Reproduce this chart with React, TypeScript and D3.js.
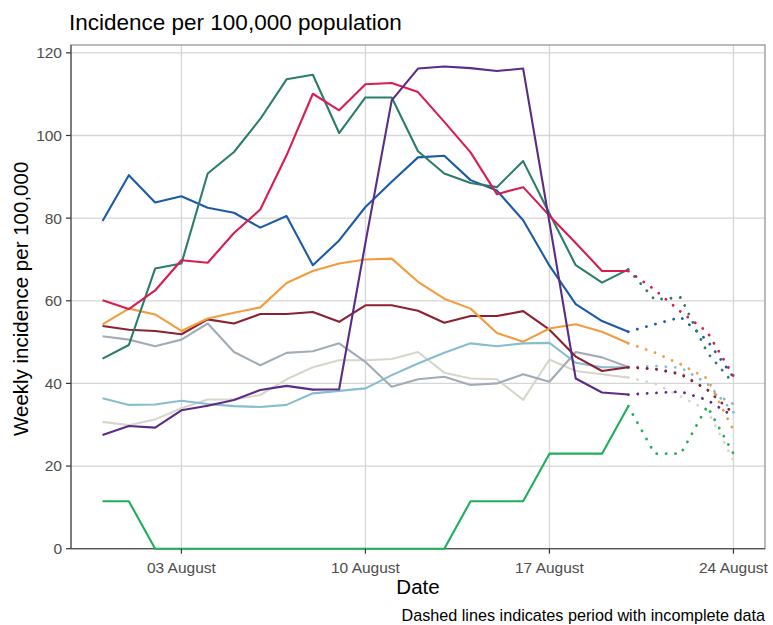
import * as d3 from "d3"

const days = [
  "2020-07-31", "2020-08-01", "2020-08-02", "2020-08-03", "2020-08-04",
  "2020-08-05", "2020-08-06", "2020-08-07", "2020-08-08", "2020-08-09",
  "2020-08-10", "2020-08-11", "2020-08-12", "2020-08-13", "2020-08-14",
  "2020-08-15", "2020-08-16", "2020-08-17", "2020-08-18", "2020-08-19",
  "2020-08-20", "2020-08-21", "2020-08-22", "2020-08-23", "2020-08-24",
]
// last complete day (index into days); after it the data is incomplete
const lastComplete = 20

const blue = [79.3, 90.4, 83.8, 85.3, 82.5, 81.3, 77.7, 80.5, 68.6, 74.6, 82.7, 88.8, 94.7, 95.1, 89.2, 86.7, 79.5, 68.5, 59.2, 55.1, 52.5, 54.3, 56, 50.4, 41.5]
const teal = [46, 49.3, 67.8, 69, 90.8, 96, 104, 113.6, 114.7, 100.6, 109.2, 109.2, 96.2, 90.8, 88.5, 87.5, 93.8, 81.1, 68.6, 64.4, 67.6, 60.3, 60.8, 47.5, 40]
const crimson = [60.1, 58, 62.5, 69.8, 69.2, 76.4, 82.1, 95.2, 110.1, 106.1, 112.4, 112.7, 110.5, 103.3, 95.9, 85.8, 87.5, 80.6, 74, 67.2, 67.2, 62.7, 57.3, 52.5, 41.8]
const purple = [27.5, 29.7, 29.3, 33.5, 34.6, 36, 38.4, 39.4, 38.5, 38.6, 74, 108.5, 116.2, 116.7, 116.3, 115.6, 116.2, 79, 41.2, 37.8, 37.3, 37.7, 38, 36, 32]
const orange = [54.3, 58.1, 56.7, 52.7, 55.7, 57.1, 58.4, 64.3, 67.2, 69, 70, 70.2, 64.6, 60.5, 58.1, 52.2, 50.1, 53.3, 54.3, 52.5, 49.7, 47.5, 44.6, 41.2, 28.7]
const maroon = [53.9, 53, 52.7, 51.9, 55.5, 54.5, 56.8, 56.8, 57.3, 54.9, 58.9, 58.9, 57.6, 54.7, 56.3, 56.3, 57.5, 53, 46.5, 43, 43.9, 43.5, 42.2, 38.5, 32.7]
const grey = [51.4, 50.6, 49, 50.6, 54.5, 47.6, 44.4, 47.4, 47.8, 49.7, 45.2, 39.2, 41, 41.6, 39.6, 40, 42.2, 40.4, 47.6, 46.3, 44, 43.5, 42.5, 38.5, 35]
const lightBlue = [36.4, 34.8, 34.9, 35.8, 35, 34.5, 34.3, 34.8, 37.6, 38.2, 38.8, 42, 44.8, 47.4, 49.7, 49, 49.7, 49.8, 45, 43.9, 43.9, 44.2, 43.8, 40, 33]
const beige = [30.7, 29.9, 31.3, 34, 36.1, 36.1, 37.2, 41, 43.9, 45.6, 45.6, 45.9, 47.6, 42.6, 41.2, 41, 36, 45.8, 43, 42.2, 41.4, 40, 36.8, 33.5, 21.4]
const green = [11.5, 11.5, 0, 0, 0, 0, 0, 0, 0, 0, 0, 0, 0, 0, 11.5, 11.5, 11.5, 23, 23, 23, 34.5, 23, 23, 34.5, 23]

const series = [
  { values: beige, color: "#d8d5cb" },
  { values: grey, color: "#a1acb6" },
  { values: lightBlue, color: "#86bdcf" },
  { values: maroon, color: "#8a2232" },
  { values: orange, color: "#f39c3e" },
  { values: green, color: "#1fae5a" },
  { values: blue, color: "#1c5ba6" },
  { values: teal, color: "#2b7d6c" },
  { values: crimson, color: "#d81e50" },
  { values: purple, color: "#5b2c86" },
]

const yTicks = [0, 20, 40, 60, 80, 100, 120]
const xTicks = ["2020-08-03", "2020-08-10", "2020-08-17", "2020-08-24"]

const W = 773
const H = 625
const left = 71
const right = 765
const top = 45
const bottom = 548.7
const font = "'Liberation Sans', Arial, sans-serif"

const parse = d3.timeParse("%Y-%m-%d")

const App = () => {
  const dates = days.map((d) => parse(d) as Date)
  const first = dates[0]
  const last = dates[dates.length - 1]
  const pad = (last.getTime() - first.getTime()) * 0.05
  const x = d3
    .scaleTime()
    .domain([new Date(first.getTime() - pad), new Date(last.getTime() + pad)])
    .range([left, right])
  const y = d3.scaleLinear().domain([0, 121.9]).range([bottom, top])

  const line = d3
    .line<[Date, number]>()
    .x((d) => x(d[0]))
    .y((d) => y(d[1]))

  const fmt = d3.timeFormat("%d %B")

  return (
    <svg width={W} height={H} style={{ position: "absolute", left: 0, top: 0 }} fontFamily={font}>
      <rect x={0} y={0} width={W} height={H} fill="#fff" />
      <text x={69} y={30} fontSize={22.5} fill="#000">
        Incidence per 100,000 population
      </text>
      <g>
        {yTicks.map((t) => (
          <line key={"gy" + t} x1={left} x2={right} y1={y(t)} y2={y(t)} stroke="#d6d6d6" strokeWidth={1.3} />
        ))}
        {xTicks.map((t) => {
          const xx = x(parse(t) as Date)
          return <line key={"gx" + t} x1={xx} x2={xx} y1={top} y2={bottom} stroke="#d6d6d6" strokeWidth={1.3} />
        })}
        <rect x={left} y={top} width={right - left} height={bottom - top} fill="none" stroke="#8c8c8c" strokeWidth={1.2} />
        <line x1={left} x2={left} y1={top} y2={bottom} stroke="#555" strokeWidth={1.2} />
        <line x1={left} x2={right} y1={bottom} y2={bottom} stroke="#555" strokeWidth={1.2} />
      </g>
      <g fill="none" strokeLinejoin="round">
        {series.map((s, i) => {
          const pts: [Date, number][] = s.values.map((v, j) => [dates[j], v])
          const solid = pts.slice(0, lastComplete + 1)
          const dotted = pts.slice(lastComplete)
          return (
            <g key={i}>
              <path d={line(solid) || ""} stroke={s.color} strokeWidth={2.1} />
              <path
                d={line(dotted) || ""}
                stroke={s.color}
                strokeWidth={2.8}
                strokeDasharray="0.1 9.3"
                strokeLinecap="round"
              />
            </g>
          )
        })}
      </g>
      <g fontSize={15.5} fill="#4d4d4d">
        {yTicks.map((t) => (
          <g key={"ty" + t}>
            <line x1={66} x2={left} y1={y(t)} y2={y(t)} stroke="#333" strokeWidth={1.2} />
            <text x={62} y={y(t)} dy="0.35em" textAnchor="end">
              {t}
            </text>
          </g>
        ))}
        {xTicks.map((t) => {
          const xx = x(parse(t) as Date)
          return (
            <g key={"tx" + t}>
              <line x1={xx} x2={xx} y1={bottom} y2={bottom + 5} stroke="#333" strokeWidth={1.2} />
              <text x={xx} y={573} textAnchor="middle">
                {fmt(parse(t) as Date)}
              </text>
            </g>
          )
        })}
      </g>
      <text x={(left + right) / 2} y={594} textAnchor="middle" fontSize={20.5} fill="#000">
        Date
      </text>
      <text
        transform={`translate(28, ${(top + bottom) / 2 + 2}) rotate(-90)`}
        textAnchor="middle"
        fontSize={20.5}
        fill="#000"
      >
        Weekly incidence per 100,000
      </text>
      <text x={765} y={621} textAnchor="end" fontSize={16.2} fill="#000">
        Dashed lines indicates period with incomplete data
      </text>
    </svg>
  )
}

export default App
